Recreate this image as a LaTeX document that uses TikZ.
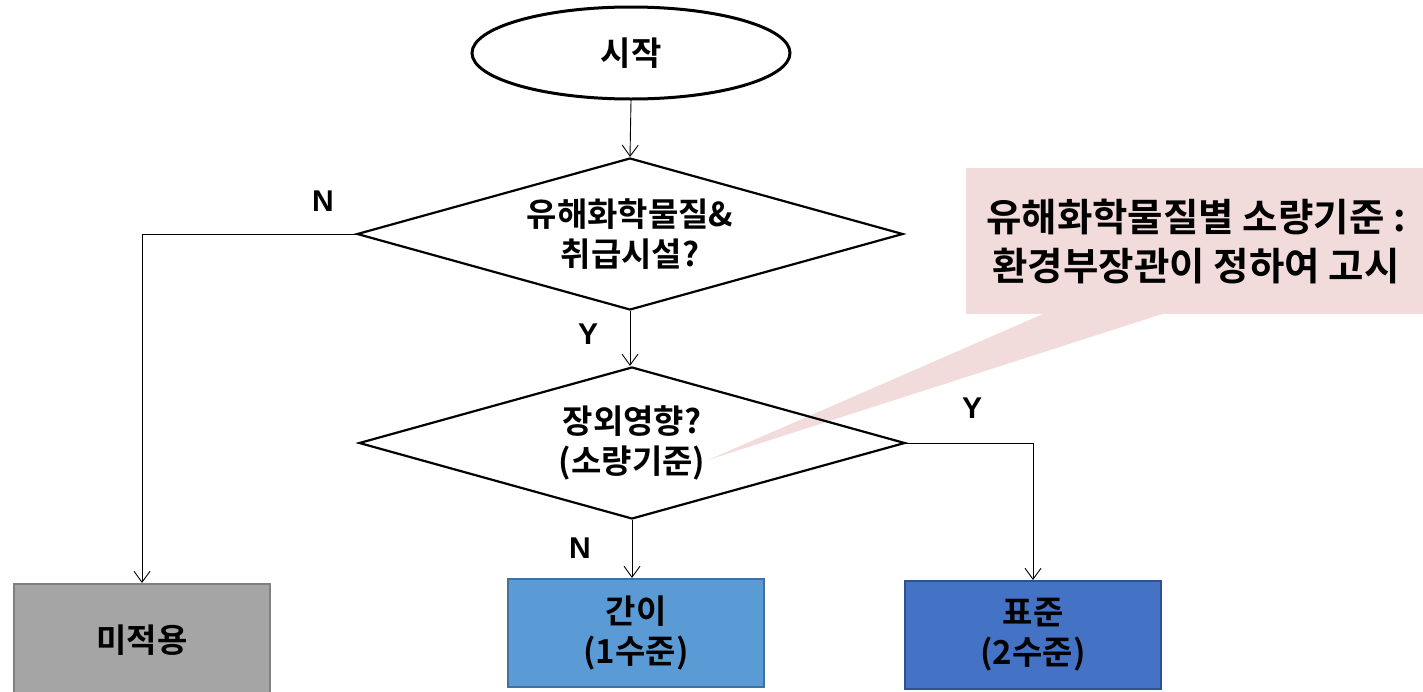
\documentclass[tikz,border=0pt]{standalone}
\usepackage{fontspec}
\setmainfont{Liberation Sans}
\newfontfamily\kofont{Noto Sans CJK KR Bold}
\usetikzlibrary{shapes.geometric,arrows.meta,calc}
\definecolor{boxgray}{HTML}{A5A5A5}
\definecolor{boxgrayline}{HTML}{7F7F7F}
\definecolor{boxlight}{HTML}{5B9BD5}
\definecolor{boxlightline}{HTML}{41719C}
\definecolor{boxdark}{HTML}{4472C4}
\definecolor{boxdarkline}{HTML}{2F528F}
\definecolor{notepink}{HTML}{F2DCDB}
\begin{document}
\begin{tikzpicture}[x=1pt,y=-1pt,
  kotext/.style={font=\kofont\fontsize{33}{40}\selectfont, align=center},
  startnode/.style={ellipse, draw, line width=3pt, minimum width=318pt, minimum height=92pt, inner sep=0pt, kotext},
  decision/.style={diamond, draw, line width=2.2pt, aspect=3.6, minimum width=546pt, minimum height=152pt, inner sep=0pt, kotext},
  resultbox/.style={rectangle, line width=2pt, minimum width=256pt, minimum height=108pt, inner sep=0pt, kotext},
  flow/.style={-{Straight Barb[length=11pt,width=16pt,line width=0.9pt]}, line width=0.9pt},
  branch/.style={font=\bfseries\fontsize{30}{34}\selectfont}
]
\useasboundingbox (0,0) rectangle (1423,691);

% callout note with its pointer
\coordinate (tip) at (708,460);
\node[rectangle, fill=notepink, minimum width=460pt, minimum height=146pt, inner sep=0pt,
      font=\kofont\fontsize{38.5}{49}\selectfont, align=center] (note) at (1196,241)
  {유해화학물질별 소량기준 :\\환경부장관이 정하여 고시};
\fill[notepink] ($(note.south west)+(79,-1)$) -- (tip) -- ($(note.south west)+(199,-1)$) -- cycle;

% flowchart nodes
\node[startnode] (start) at (631,53) {시작};
\node[decision] (d1) at (630,234) {유해화학물질\&\\취급시설?};
\node[decision] (d2) at (632,443) {장외영향?\\(소량기준)};
\node[resultbox, fill=boxgray, draw=boxgrayline, minimum height=112pt] (na) at (142,640) {미적용};
\node[resultbox, fill=boxlight, draw=boxlightline] (easy) at (636,633) {간이\\(1수준)};
\node[resultbox, fill=boxdark, draw=boxdarkline] (std) at (1033,635) {표준\\(2수준)};

% connectors
\draw[flow] (start.south) -- (d1.north);
\draw[flow] (d1.south) -- (d2.north -| d1.south);
\draw[flow] (d2.south) -- (easy.north -| d2.south);
\draw[flow] (d1.west) -| (na.north);
\draw[flow] (d2.east) -| (std.north);

% branch labels
\node[branch] (n1) at (323,201) {N};
\node[branch] (y1) at (588,334) {Y};
\node[branch] (n2) at (580,548) {N};
\node[branch] (y2) at (972,408) {Y};
\end{tikzpicture}
\end{document}
